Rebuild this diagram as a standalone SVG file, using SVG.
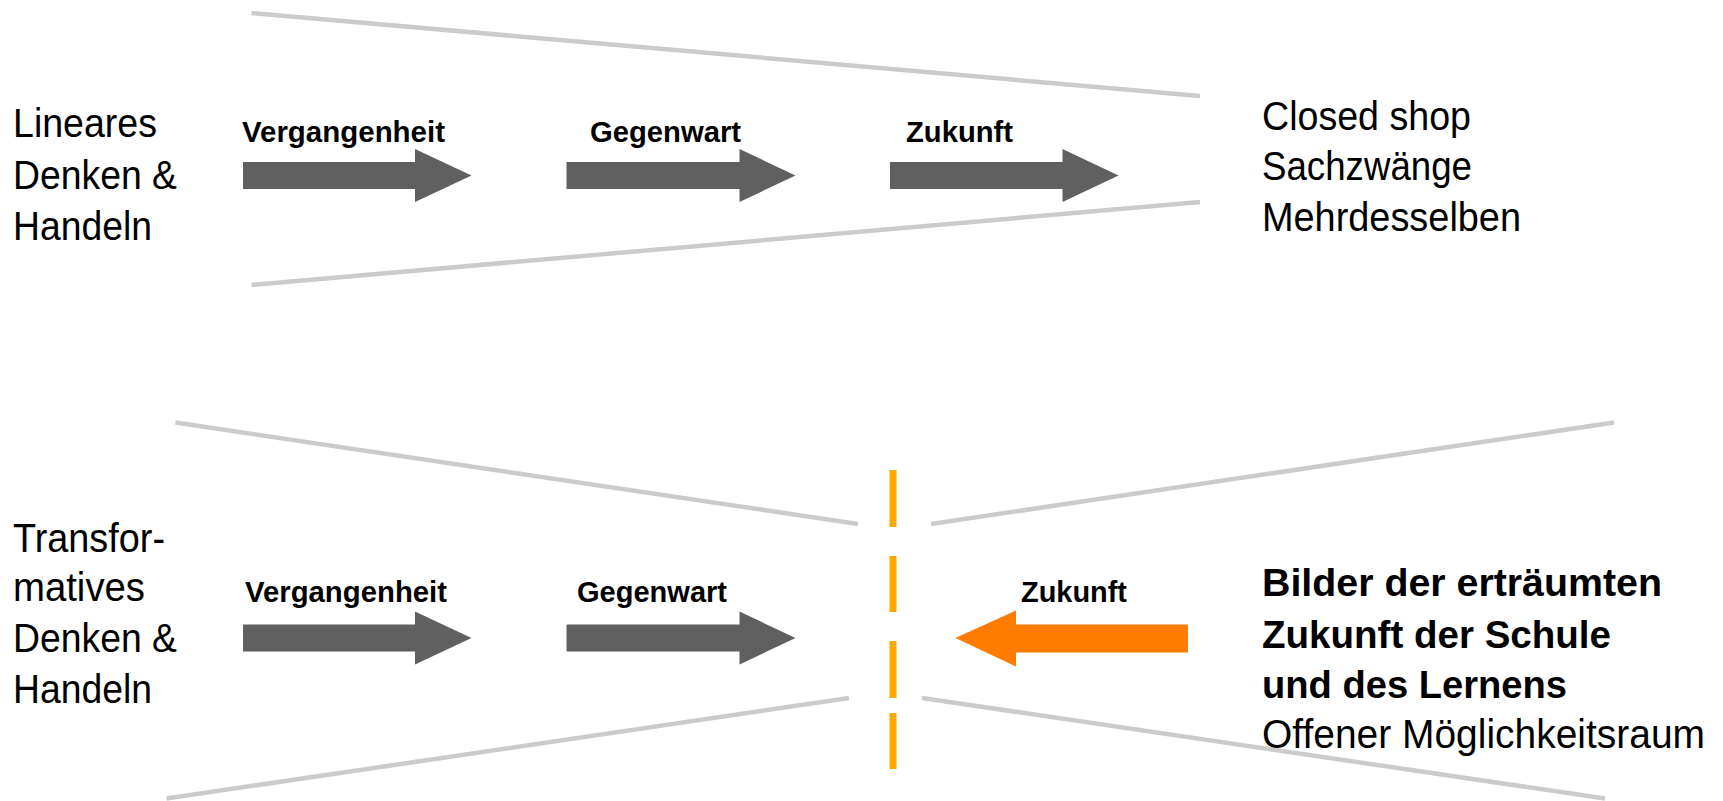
<svg xmlns="http://www.w3.org/2000/svg" width="1723" height="801" viewBox="0 0 1723 801">
<style>
.bg{fill:#ffffff}
.funnel{stroke:#cbcbcb;stroke-width:4.5;fill:none;stroke-linecap:butt}
.garrow{fill:#606060}
.oarrow{fill:#ff7c00}
.dash{fill:#ffa800}
.reg{font-family:"Liberation Sans",Arial,sans-serif;font-size:40px;fill:#000}
.lbl{font-family:"Liberation Sans",Arial,sans-serif;font-size:29px;font-weight:bold;fill:#000}
.big{font-family:"Liberation Sans",Arial,sans-serif;font-size:39px;font-weight:bold;fill:#000}
</style>
<rect class="bg" x="0" y="0" width="1723" height="801"/>

<g id="funnels">
  <line class="funnel" x1="251.5" y1="13" x2="1200" y2="96"/>
  <line class="funnel" x1="251.5" y1="285" x2="1200" y2="202"/>
  <line class="funnel" x1="175.5" y1="422.5" x2="858" y2="524"/>
  <line class="funnel" x1="931" y1="524" x2="1614" y2="422.5"/>
  <line class="funnel" x1="166.5" y1="798.5" x2="849" y2="698"/>
  <line class="funnel" x1="922" y1="698" x2="1605" y2="798.5"/>
</g>

<g id="connectors">
  <path class="garrow" d="M243,162 H415 V149 L471.5,175.5 L415,202 V189 H243 Z"/>
  <path class="garrow" d="M566.5,162 H739.5 V149 L795.5,175.5 L739.5,202 V189 H566.5 Z"/>
  <path class="garrow" d="M890,162 H1062.5 V149 L1118.5,175.5 L1062.5,202 V189 H890 Z"/>
  <path class="garrow" d="M243,624.5 H415 V611.5 L471.5,638 L415,664.5 V651.5 H243 Z"/>
  <path class="garrow" d="M566.5,624.5 H739.5 V611.5 L795.5,638 L739.5,664.5 V651.5 H566.5 Z"/>
  <path class="oarrow" d="M1188,624.5 H1016 V610.5 L955.5,638 L1016,666.5 V652.5 H1188 Z"/>
</g>

<g id="divider">
  <rect class="dash" x="889.5" y="470" width="7" height="57"/>
  <rect class="dash" x="889.5" y="556" width="7" height="56"/>
  <rect class="dash" x="889.5" y="641" width="7" height="57"/>
  <rect class="dash" x="889.5" y="713" width="7" height="56"/>
</g>

<g id="linear-label">
  <text class="reg" x="13" y="137" textLength="144" lengthAdjust="spacingAndGlyphs">Lineares</text>
  <text class="reg" x="13" y="189" textLength="164" lengthAdjust="spacingAndGlyphs">Denken &amp;</text>
  <text class="reg" x="13" y="240" textLength="139" lengthAdjust="spacingAndGlyphs">Handeln</text>
</g>

<g id="linear-past"><text class="lbl" x="242" y="142" textLength="203" lengthAdjust="spacingAndGlyphs">Vergangenheit</text></g>
<g id="linear-present"><text class="lbl" x="590" y="142" textLength="151" lengthAdjust="spacingAndGlyphs">Gegenwart</text></g>
<g id="linear-future"><text class="lbl" x="906" y="142" textLength="107" lengthAdjust="spacingAndGlyphs">Zukunft</text></g>

<g id="linear-result">
  <text class="reg" x="1262" y="130" textLength="209" lengthAdjust="spacingAndGlyphs">Closed shop</text>
  <text class="reg" x="1262" y="180" textLength="210" lengthAdjust="spacingAndGlyphs">Sachzwänge</text>
  <text class="reg" x="1262" y="231" textLength="259" lengthAdjust="spacingAndGlyphs">Mehrdesselben</text>
</g>

<g id="transform-label">
  <text class="reg" x="13" y="552" textLength="152" lengthAdjust="spacingAndGlyphs">Transfor-</text>
  <text class="reg" x="13" y="601" textLength="132" lengthAdjust="spacingAndGlyphs">matives</text>
  <text class="reg" x="13" y="652" textLength="164" lengthAdjust="spacingAndGlyphs">Denken &amp;</text>
  <text class="reg" x="13" y="703" textLength="139" lengthAdjust="spacingAndGlyphs">Handeln</text>
</g>

<g id="transform-past"><text class="lbl" x="245" y="602" textLength="202" lengthAdjust="spacingAndGlyphs">Vergangenheit</text></g>
<g id="transform-present"><text class="lbl" x="577" y="602" textLength="150" lengthAdjust="spacingAndGlyphs">Gegenwart</text></g>
<g id="transform-future"><text class="lbl" x="1021" y="602" textLength="106" lengthAdjust="spacingAndGlyphs">Zukunft</text></g>

<g id="transform-result">
  <text class="big" x="1262" y="596" textLength="400" lengthAdjust="spacingAndGlyphs">Bilder der erträumten</text>
  <text class="big" x="1262" y="648" textLength="349" lengthAdjust="spacingAndGlyphs">Zukunft der Schule</text>
  <text class="big" x="1262" y="698" textLength="305" lengthAdjust="spacingAndGlyphs">und des Lernens</text>
  <text class="reg" x="1262" y="748" textLength="443" lengthAdjust="spacingAndGlyphs">Offener Möglichkeitsraum</text>
</g>
</svg>
